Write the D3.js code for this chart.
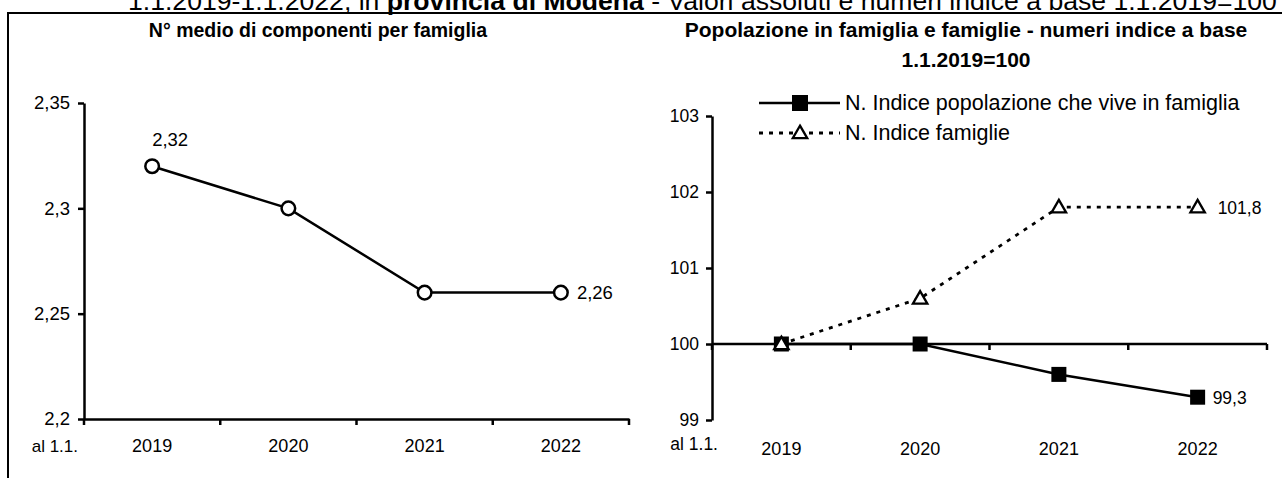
<!DOCTYPE html>
<html>
<head>
<meta charset="utf-8">
<script src="https://cdn.jsdelivr.net/npm/d3@7"></script>
<style>
  html, body { margin: 0; padding: 0; background: #fff; }
  svg { display: block; font-family: "Liberation Sans", Arial, sans-serif; }
</style>
</head>
<body>
<svg id="chart" width="1282" height="478"></svg>
<script>
// Dati: famiglie in provincia di Modena, 1.1.2019 - 1.1.2022
const anni = ["2019", "2020", "2021", "2022"];
const componentiMedi = [2.32, 2.30, 2.26, 2.26];
const indicePopolazione = [100, 100, 99.6, 99.3];
const indiceFamiglie = [100, 100.6, 101.8, 101.8];
const ticksComponenti = [2.2, 2.25, 2.3, 2.35];
const ticksIndice = [99, 100, 101, 102, 103];
const etichettaAnno = "al 1.1.";
const titoloSinistra = "N° medio di componenti per famiglia";
const titoloDestra = ["Popolazione in famiglia e famiglie - numeri indice a base", "1.1.2019=100"];
const legendaSerie = ["N. Indice popolazione che vive in famiglia", "N. Indice famiglie"];

const it = d3.formatLocale({ decimal: ",", thousands: ".", grouping: [3], currency: ["", " €"] });
const fmt = it.format("~r");

const svg = d3.select("#chart");

// Intestazione (tagliata in alto) e cornice
const head = svg.append("text").attr("x", 128).attr("y", 10).attr("font-size", 26.6);
head.append("tspan").text("1.1.2019-1.1.2022, in ");
head.append("tspan").attr("font-weight", "bold").text("provincia di Modena");
head.append("tspan").text(" - Valori assoluti e numeri indice a base 1.1.2019=100");

svg.append("line").attr("x1", 7).attr("x2", 1282).attr("y1", 13).attr("y2", 13)
  .attr("stroke", "#000").attr("stroke-width", 2);
svg.append("line").attr("x1", 8).attr("x2", 8).attr("y1", 13).attr("y2", 478)
  .attr("stroke", "#000").attr("stroke-width", 2);

function styleAxis(g, size) {
  g.selectAll("path.domain").attr("stroke", "#000").attr("stroke-width", 2.5);
  g.selectAll(".tick line").attr("stroke", "#000").attr("stroke-width", 2.5);
  g.selectAll(".tick text").attr("fill", "#000").attr("font-size", size)
    .attr("font-family", "Liberation Sans, Arial, sans-serif");
}

// Tacche dell'asse X ai confini delle categorie
function boundaryTicks(g, x, yPos) {
  const bounds = anni.map(a => x(a)).concat([x.range()[1]]);
  g.selectAll("line.bound").data(bounds).join("line").attr("class", "bound")
    .attr("x1", d => d).attr("x2", d => d).attr("y1", yPos).attr("y2", yPos + 6)
    .attr("stroke", "#000").attr("stroke-width", 2.5);
}

// ---------- Grafico sinistro: n° medio componenti ----------
{
  const x = d3.scaleBand().domain(anni).range([84, 629]);
  const y = d3.scaleLinear().domain([2.2, 2.35]).range([419, 103]);
  const cx = d => x(d) + x.bandwidth() / 2;

  svg.append("text").attr("x", 318).attr("y", 37).attr("text-anchor", "middle")
    .attr("font-weight", "bold").attr("font-size", 19.5).text(titoloSinistra);

  const gy = svg.append("g").attr("transform", "translate(84,0)")
    .call(d3.axisLeft(y).tickValues(ticksComponenti).tickSize(6).tickSizeOuter(0).tickPadding(8).tickFormat(fmt));
  styleAxis(gy, 18.5);

  const gx = svg.append("g").attr("transform", "translate(0,419)")
    .call(d3.axisBottom(x).tickSize(0).tickSizeOuter(0).tickPadding(20));
  styleAxis(gx, 18);
  boundaryTicks(svg.append("g"), x, 419);

  svg.append("text").attr("x", 78).attr("y", 452).attr("text-anchor", "end")
    .attr("font-size", 17).text(etichettaAnno);

  const line = d3.line().x((d, i) => cx(anni[i])).y(d => y(d));
  svg.append("path").datum(componentiMedi).attr("d", line)
    .attr("fill", "none").attr("stroke", "#000").attr("stroke-width", 2.5);
  svg.append("g").selectAll("circle").data(componentiMedi).join("circle")
    .attr("cx", (d, i) => cx(anni[i])).attr("cy", d => y(d)).attr("r", 6.8)
    .attr("fill", "#fff").attr("stroke", "#000").attr("stroke-width", 2.5);

  svg.append("text").attr("x", cx(anni[0])).attr("y", y(componentiMedi[0]) - 20)
    .attr("font-size", 18.5).text(fmt(componentiMedi[0]));
  svg.append("text").attr("x", cx(anni[3]) + 16).attr("y", y(componentiMedi[3]) + 6.5)
    .attr("font-size", 18.5).text(fmt(componentiMedi[3]));
}

// ---------- Grafico destro: numeri indice ----------
{
  const x = d3.scaleBand().domain(anni).range([712, 1267]);
  const y = d3.scaleLinear().domain([99, 103]).range([420, 116]);
  const cx = d => x(d) + x.bandwidth() / 2;

  svg.append("text").attr("x", 966).attr("y", 37).attr("text-anchor", "middle")
    .attr("font-weight", "bold").attr("font-size", 21).text(titoloDestra[0]);
  svg.append("text").attr("x", 966).attr("y", 67).attr("text-anchor", "middle")
    .attr("font-weight", "bold").attr("font-size", 21).text(titoloDestra[1]);

  const gy = svg.append("g").attr("transform", "translate(712,0)")
    .call(d3.axisLeft(y).tickValues(ticksIndice).tickSize(6).tickSizeOuter(0).tickPadding(7).tickFormat(fmt));
  styleAxis(gy, 17.5);

  const y100 = y(100);
  svg.append("line").attr("x1", x.range()[0]).attr("x2", x.range()[1])
    .attr("y1", y100).attr("y2", y100).attr("stroke", "#000").attr("stroke-width", 2.5);
  boundaryTicks(svg.append("g"), x, y100);

  const gx = svg.append("g").attr("transform", "translate(0,420)")
    .call(d3.axisBottom(x).tickSize(0).tickSizeOuter(0).tickPadding(22));
  gx.select("path.domain").remove();
  styleAxis(gx, 18);

  svg.append("text").attr("x", 718).attr("y", 450).attr("text-anchor", "end")
    .attr("font-size", 17.5).text(etichettaAnno);

  const line = d3.line().x((d, i) => cx(anni[i])).y(d => y(d));

  // popolazione in famiglia
  svg.append("path").datum(indicePopolazione).attr("d", line)
    .attr("fill", "none").attr("stroke", "#000").attr("stroke-width", 2.5);
  svg.append("g").selectAll("rect").data(indicePopolazione).join("rect")
    .attr("x", (d, i) => cx(anni[i]) - 7.5).attr("y", d => y(d) - 7.5)
    .attr("width", 15).attr("height", 15).attr("fill", "#000");

  // famiglie
  svg.append("path").datum(indiceFamiglie).attr("d", line)
    .attr("fill", "none").attr("stroke", "#000").attr("stroke-width", 2.8)
    .attr("stroke-dasharray", "4,6");
  const tri = d3.symbol().type(d3.symbolTriangle).size(90);
  svg.append("g").selectAll("path").data(indiceFamiglie).join("path")
    .attr("d", tri).attr("transform", (d, i) => `translate(${cx(anni[i])},${y(d) + 1})`)
    .attr("fill", "#fff").attr("stroke", "#000").attr("stroke-width", 2.3);

  svg.append("text").attr("x", cx(anni[3]) + 20).attr("y", y(indiceFamiglie[3]) + 6.5)
    .attr("font-size", 17.5).text(fmt(indiceFamiglie[3]));
  svg.append("text").attr("x", cx(anni[3]) + 15).attr("y", y(indicePopolazione[3]) + 6.5)
    .attr("font-size", 17.5).text(fmt(indicePopolazione[3]));

  // legenda
  const lg = svg.append("g");
  lg.append("line").attr("x1", 759).attr("x2", 840).attr("y1", 103).attr("y2", 103)
    .attr("stroke", "#000").attr("stroke-width", 2.5);
  lg.append("rect").attr("x", 792).attr("y", 95).attr("width", 16).attr("height", 16).attr("fill", "#000");
  lg.append("text").attr("x", 845).attr("y", 110).attr("font-size", 21.5).text(legendaSerie[0]);
  lg.append("line").attr("x1", 759).attr("x2", 840).attr("y1", 133).attr("y2", 133)
    .attr("stroke", "#000").attr("stroke-width", 2.8).attr("stroke-dasharray", "4,6");
  lg.append("path").attr("d", tri).attr("transform", "translate(800,134)")
    .attr("fill", "#fff").attr("stroke", "#000").attr("stroke-width", 2.3);
  lg.append("text").attr("x", 845).attr("y", 140).attr("font-size", 21.5).text(legendaSerie[1]);
}
</script>
</body>
</html>
